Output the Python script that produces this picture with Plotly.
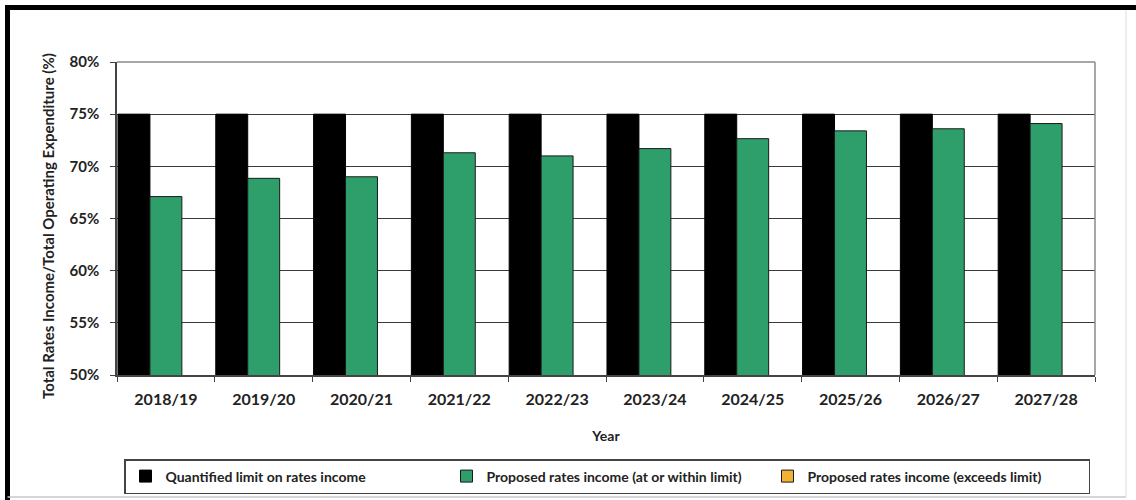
import plotly.graph_objects as go

years = ["2018/19", "2019/20", "2020/21", "2021/22", "2022/23",
         "2023/24", "2024/25", "2025/26", "2026/27", "2027/28"]
limit_pct = [75, 75, 75, 75, 75, 75, 75, 75, 75, 75]
within_pct = [67.1, 68.85, 69.0, 71.3, 71.0, 71.7, 72.65, 73.4, 73.6, 74.1]
exceeds_pct = [None] * 10

W, H = 1136, 500
L, R, T, B = 117, 41, 62, 125
PW, PH = W - L - R, H - T - B

def px(x):
    return (x - L) / PW

def py(y):
    return (H - B - y) / PH

FONT = "Lato"

fig = go.Figure()
fig.add_trace(go.Bar(x=years, y=limit_pct, name="<b>Quantified limit on rates income</b>",
                     marker=dict(color="#000000", line=dict(color="#000000", width=1))))
fig.add_trace(go.Bar(x=years, y=within_pct, name="<b>Proposed rates income (at or within limit)</b>",
                     marker=dict(color="#2E9E6B", line=dict(color="#1a1a1a", width=1))))
fig.add_trace(go.Bar(x=years, y=exceeds_pct, name="<b>Proposed rates income (exceeds limit)</b>",
                     marker=dict(color="#F2B134", line=dict(color="#1a1a1a", width=1))))

fig.update_layout(
    width=W, height=H,
    margin=dict(l=L, r=R, t=T, b=B, autoexpand=False),
    paper_bgcolor="white", plot_bgcolor="white",
    barmode="group", bargap=0.02, bargroupgap=0,
    font=dict(family=FONT, color="#222222"),
    legend=dict(orientation="h", x=px(607), xanchor="center", y=py(459), yanchor="top",
                bordercolor="#444444", borderwidth=1.5, bgcolor="white",
                font=dict(family=FONT, size=14, color="#222222"),
                itemwidth=30, traceorder="normal",
                entrywidth=276, entrywidthmode="pixels"),
    showlegend=True,
)

fig.update_xaxes(
    automargin=False,
    title=dict(text="<b>Year</b>", font=dict(family=FONT, size=14, color="#222222"), standoff=24),
    tickfont=dict(family=FONT, size=16, color="#222222"),
    tickprefix="<b>", ticksuffix="</b>",
    ticks="outside", ticklen=5, tickcolor="#444444", tickson="boundaries",
    ticklabelstandoff=9,
    showline=True, linecolor="#444444", linewidth=1.5,
    showgrid=False,
)
fig.update_yaxes(
    automargin=False,
    range=[50, 80], dtick=5, ticksuffix="%</b>", tickprefix="<b>",
    tickfont=dict(family=FONT, size=15, color="#222222"),
    ticks="outside", ticklen=5, tickcolor="#444444",
    ticklabelstandoff=8,
    showline=True, linecolor="#444444", linewidth=1.5,
    showgrid=True, gridcolor="#3a3a3a", gridwidth=1.3,
    zeroline=False,
)

# vertical axis title
fig.add_annotation(text="<b>Total Rates Income/Total Operating Expenditure (%)</b>",
                   xref="paper", yref="paper", x=px(48), y=py(226),
                   xanchor="center", yanchor="middle", textangle=-90, showarrow=False,
                   font=dict(family=FONT, size=15, color="#222222"))

# plot-area frame (top and right edges)
fig.add_shape(type="line", xref="paper", yref="paper", x0=0, x1=1, y0=1, y1=1,
              line=dict(color="#8a8a8a", width=1.5))
fig.add_shape(type="line", xref="paper", yref="paper", x0=1, x1=1, y0=0, y1=1,
              line=dict(color="#8a8a8a", width=1.5))

# outer frame: heavy dark edges on top/left, faint edges on right/bottom
fig.add_shape(type="line", xref="paper", yref="paper", x0=px(5), x1=px(W), y0=py(7.5), y1=py(7.5),
              line=dict(color="#000000", width=5))
fig.add_shape(type="line", xref="paper", yref="paper", x0=px(7.5), x1=px(7.5), y0=py(5), y1=py(H),
              line=dict(color="#000000", width=5))
fig.add_shape(type="line", xref="paper", yref="paper", x0=px(7.5), x1=px(1126), y0=py(497), y1=py(497),
              line=dict(color="#c8c8c8", width=1.5))
fig.add_shape(type="line", xref="paper", yref="paper", x0=px(1126), x1=px(1126), y0=py(10), y1=py(497),
              line=dict(color="#dddddd", width=1))

fig.write_html("out.html")
